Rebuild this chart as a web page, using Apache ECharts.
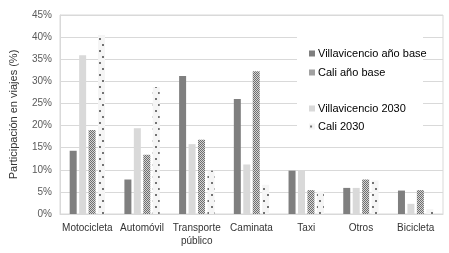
<!DOCTYPE html>
<html>
<head>
<meta charset="utf-8">
<script src="https://cdn.jsdelivr.net/npm/echarts@6/dist/echarts.min.js"></script>
<style>
  html, body { margin: 0; padding: 0; background: #fff; }
  #chart { width: 449px; height: 253px; }
</style>
</head>
<body>
<div id="chart"></div>
<script>
  // datos
  let categorias = ['Motocicleta', 'Automóvil', 'Transporte\npúblico', 'Caminata', 'Taxi', 'Otros', 'Bicicleta']
  let villavicencioBase = [14.3, 7.8, 31.2, 26.0, 9.8, 5.9, 5.3]
  let caliBase = [19.0, 13.4, 16.8, 32.3, 5.4, 7.8, 5.4]
  let villavicencio2030 = [35.9, 19.4, 15.8, 11.2, 9.8, 5.9, 2.3]
  let cali2030 = [40.5, 28.7, 9.8, 6.6, 5.1, 7.6, 1.1]
  let yTicks = [0, 5, 10, 15, 20, 25, 30, 35, 40, 45]

  let font = "'Liberation Sans Narrow', 'Arial Narrow', 'Liberation Sans', Arial, sans-serif"

  // patron cuadriculado (Cali año base)
  function checker () {
    let c = document.createElement('canvas')
    c.width = 2
    c.height = 2
    let ctx = c.getContext('2d')
    ctx.fillStyle = '#d4d4d4'
    ctx.fillRect(0, 0, 2, 2)
    ctx.fillStyle = '#6e6e6e'
    ctx.fillRect(0, 0, 1, 1)
    ctx.fillRect(1, 1, 1, 1)
    return c
  }
  // patron de puntos (Cali 2030)
  function dots () {
    let c = document.createElement('canvas')
    c.width = 7
    c.height = 12
    let ctx = c.getContext('2d')
    ctx.fillStyle = '#f5f5f5'
    ctx.fillRect(0, 0, 7, 12)
    ctx.fillStyle = '#737373'
    ctx.fillRect(1, 2, 2, 2)
    ctx.fillRect(4, 8, 2, 2)
    return c
  }

  let myChart = echarts.init(document.getElementById('chart'))
  let barW = 7
  let legendText = { fontSize: 11, color: '#000', fontFamily: font, padding: [0, 0, 0, -2] }
  let option = {
    animation: false,
    textStyle: { fontFamily: font },
    grid: {
      left: 58,
      right: 6,
      top: 15,
      bottom: 39,
      show: true,
      borderColor: '#d9d9d9',
      borderWidth: 1
    },
    graphic: [{
      type: 'rect',
      z: 5,
      shape: { x: 297, y: 30, width: 126, height: 110 },
      style: { fill: '#fff' }
    }],
    legend: [
      {
        z: 10,
        left: 304,
        top: 43,
        orient: 'vertical',
        itemWidth: 6,
        itemHeight: 6,
        itemGap: 8,
        icon: 'rect',
        textStyle: legendText,
        data: ['Villavicencio año base', 'Cali año base']
      },
      {
        z: 10,
        left: 304,
        top: 98,
        orient: 'vertical',
        itemWidth: 6,
        itemHeight: 6,
        itemGap: 7,
        icon: 'rect',
        textStyle: legendText,
        data: ['Villavicencio 2030', 'Cali 2030']
      }
    ],
    xAxis: {
      type: 'category',
      data: categorias,
      axisTick: { show: false },
      axisLine: { lineStyle: { color: '#d9d9d9' } },
      axisLabel: {
        color: '#333',
        fontSize: 10,
        margin: 8,
        lineHeight: 13,
        interval: 0
      }
    },
    yAxis: {
      type: 'value',
      min: 0,
      max: 45,
      interval: 5,
      name: 'Participación en viajes (%)',
      nameLocation: 'middle',
      nameGap: 41,
      nameTextStyle: { color: '#333', fontSize: 11, fontFamily: font },
      axisLine: { show: true, lineStyle: { color: '#d9d9d9' } },
      axisTick: { show: false },
      splitLine: { lineStyle: { color: '#d9d9d9' } },
      axisLabel: {
        color: '#595959',
        fontSize: 10,
        margin: 8,
        formatter: function (v) { return yTicks.indexOf(v) >= 0 ? v + '%' : '' }
      }
    },
    series: [
      {
        name: 'Villavicencio año base',
        type: 'bar',
        barWidth: barW,
        barGap: '35%',
        itemStyle: { color: '#7f7f7f' },
        data: villavicencioBase
      },
      {
        name: 'Villavicencio 2030',
        type: 'bar',
        barWidth: barW,
        barGap: '35%',
        itemStyle: { color: '#d9d9d9' },
        data: villavicencio2030
      },
      {
        name: 'Cali año base',
        type: 'bar',
        barWidth: barW,
        barGap: '35%',
        itemStyle: { color: { image: checker(), repeat: 'repeat' } },
        data: caliBase
      },
      {
        name: 'Cali 2030',
        type: 'bar',
        barWidth: barW,
        barGap: '35%',
        itemStyle: { color: { image: dots(), repeat: 'repeat' } },
        data: cali2030
      }
    ]
  }
  myChart.setOption(option)
</script>
</body>
</html>
